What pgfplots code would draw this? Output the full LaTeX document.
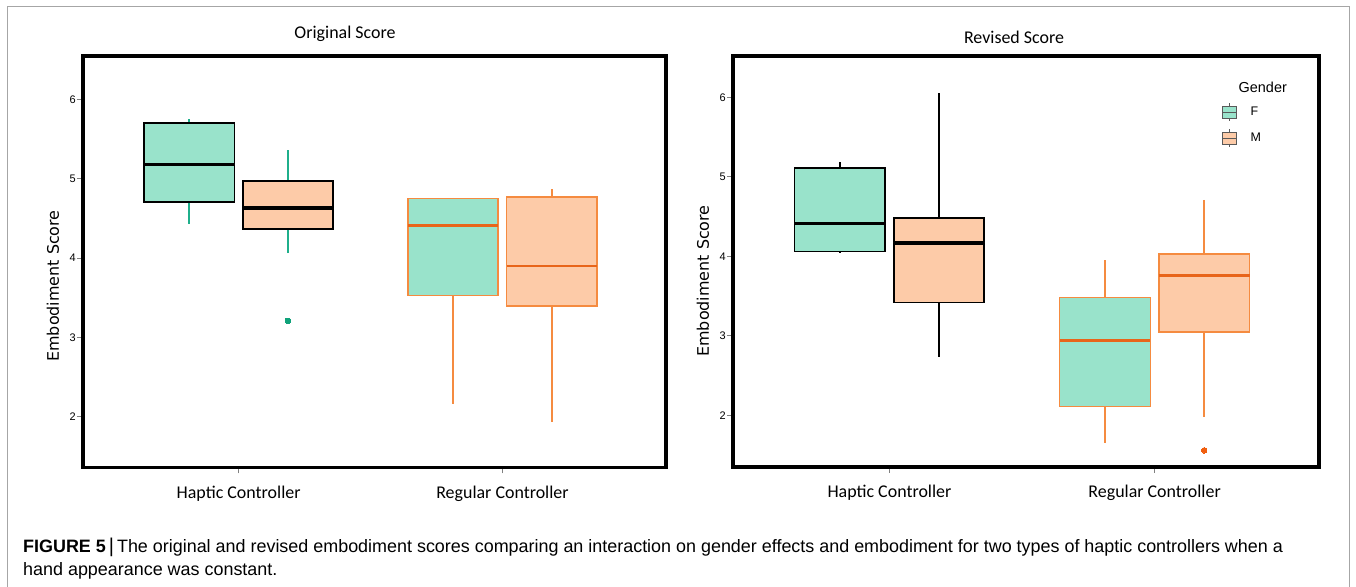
\documentclass[border=0pt]{standalone}
\usepackage{fontspec}
\setmainfont{Liberation Sans}
\newfontfamily\carl{Carlito}
\newfontfamily\dejav{DejaVu Sans}
\usepackage{pgfplots}
\pgfplotsset{compat=1.18}
\usepgfplotslibrary{statistics}
\definecolor{Ffill}{HTML}{99E3CB}
\definecolor{Mfill}{HTML}{FDCBA8}
\definecolor{tealw}{HTML}{1FAF8B}
\definecolor{tealpt}{HTML}{10A27A}
\definecolor{orw}{HTML}{F58B40}
\definecolor{ormed}{HTML}{E8651A}
\definecolor{orpt}{HTML}{F05E0F}
\pgfplotsset{
  myax/.style={
    scale only axis, anchor=south west,
    xmin=-0.59, xmax=1.62,
    xtick={0,1}, xticklabels={Haptic Controller, Regular Controller},
    ytick={2,3,4,5,6},
    tick align=outside, xtick pos=bottom, ytick pos=left,
    major tick length=6bp,
    tick style={draw=gray, line width=0.8bp},
    axis line style={line width=3.5bp, black},
    /pgf/number format/assume math mode=true,
    yticklabel style={font=\fontsize{11}{13}\selectfont, inner sep=1bp},
    xticklabel style={font=\carl\fontsize{18}{20}\selectfont, yshift=-9bp},
    boxplot/draw direction=y,
    clip=false,
  },
  hap/.style={line width=1.8bp, draw=black, boxplot/every median/.style={line width=3.5bp, draw=black}},
  reg/.style={line width=1.5bp, draw=orw, boxplot/every median/.style={line width=2.5bp, draw=ormed}, boxplot/every whisker/.style={draw=orw, line width=1.7bp}},
  gly/.style={legend image code/.code={
    \draw[fill=#1, draw=gray!70!black, line width=1bp] (0bp,-6bp) rectangle (14bp,6bp);
    \draw[draw=gray!70!black, line width=1bp] (0bp,0bp) -- (14bp,0bp) (7bp,6bp) -- (7bp,9bp) (7bp,-6bp) -- (7bp,-9bp);
    \path (26bp,0bp);}},
}
\begin{document}
\begin{tikzpicture}
\useasboundingbox (0,0) rectangle (1356bp,587bp);
\fill[white] (0,0) rectangle (1356bp,587bp);
\draw[gray!70, line width=1bp] (7bp,0) -- (7bp,580bp) -- (1349bp,580bp) -- (1349bp,0);
\node[font=\carl\fontsize{18}{20}\selectfont] at (345bp,553bp) {Original Score};
\node[font=\carl\fontsize{18}{20}\selectfont] at (1014bp,550bp) {Revised Score};
\node[rotate=90, font=\dejav\fontsize{16}{18}\selectfont] at (53bp,301bp) {Embodiment Score};
\node[rotate=90, font=\dejav\fontsize{16}{18}\selectfont] at (703bp,306bp) {Embodiment Score};

\begin{axis}[myax, width=583bp, height=411.5bp, at={(83bp,119.5bp)}, ymin=1.36, ymax=6.55]
\addplot[forget plot, hap, fill=Ffill, boxplot/every whisker/.style={draw=tealw, line width=1.7bp},
  boxplot prepared={draw position=-0.187, lower whisker=4.43, lower quartile=4.71, median=5.18, upper quartile=5.70, upper whisker=5.75, box extend=0.342, whisker extend=0}] coordinates {};
\addplot[forget plot, hap, fill=Mfill, boxplot/every whisker/.style={draw=tealw, line width=1.7bp},
  mark=*, mark size=2.8bp, mark options={draw=tealpt, fill=tealpt, line width=0pt},
  boxplot prepared={draw position=0.187, lower whisker=4.06, lower quartile=4.37, median=4.63, upper quartile=4.97, upper whisker=5.36, box extend=0.342, whisker extend=0}] coordinates {(0.187,3.21)};
\addplot[forget plot, reg, fill=Ffill,
  boxplot prepared={draw position=0.813, lower whisker=2.16, lower quartile=3.53, median=4.41, upper quartile=4.75, upper whisker=4.76, box extend=0.342, whisker extend=0}] coordinates {};
\addplot[forget plot, reg, fill=Mfill,
  boxplot prepared={draw position=1.187, lower whisker=1.94, lower quartile=3.40, median=3.90, upper quartile=4.77, upper whisker=4.87, box extend=0.342, whisker extend=0}] coordinates {};
\end{axis}

\begin{axis}[myax, width=586bp, height=411bp, at={(733bp,120bp)}, ymin=1.35, ymax=6.52,
  legend style={draw=none, fill=none, font=\fontsize{12.5}{14}\selectfont, at={(0.829,0.947)}, anchor=north west, row sep=7bp, cells={anchor=west}}]
\addplot[forget plot, hap, fill=Ffill, boxplot/every whisker/.style={draw=black, line width=1.5bp},
  boxplot prepared={draw position=-0.187, lower whisker=4.05, lower quartile=4.06, median=4.41, upper quartile=5.11, upper whisker=5.19, box extend=0.342, whisker extend=0}] coordinates {};
\addplot[forget plot, hap, fill=Mfill, boxplot/every whisker/.style={draw=black, line width=1.5bp},
  boxplot prepared={draw position=0.187, lower whisker=2.73, lower quartile=3.42, median=4.17, upper quartile=4.48, upper whisker=6.05, box extend=0.342, whisker extend=0}] coordinates {};
\addplot[forget plot, reg, fill=Ffill,
  boxplot prepared={draw position=0.813, lower whisker=1.65, lower quartile=2.11, median=2.94, upper quartile=3.48, upper whisker=3.95, box extend=0.342, whisker extend=0}] coordinates {};
\addplot[forget plot, reg, fill=Mfill,
  mark=*, mark size=2.8bp, mark options={draw=orpt, fill=orpt, line width=0pt},
  boxplot prepared={draw position=1.187, lower whisker=1.98, lower quartile=3.05, median=3.76, upper quartile=4.03, upper whisker=4.71, box extend=0.342, whisker extend=0}] coordinates {(1.187,1.56)};
\addlegendimage{empty legend}
\addlegendentry{\hspace{-12bp}\fontsize{14.5}{16}\selectfont Gender}
\addlegendimage{gly=Ffill}
\addlegendentry{F}
\addlegendimage{gly=Mfill}
\addlegendentry{M}
\end{axis}

\node[anchor=base west, inner sep=0pt, font=\fontsize{18}{20}\selectfont] at (23bp,35bp)
  {{\bfseries FIGURE 5}\,{\fontsize{20}{20}\selectfont|}\,The original and revised embodiment scores comparing an interaction on gender effects and embodiment for two types of haptic controllers when a};
\node[anchor=base west, inner sep=0pt, font=\fontsize{18}{20}\selectfont] at (23bp,12bp)
  {hand appearance was constant.};
\end{tikzpicture}
\end{document}
